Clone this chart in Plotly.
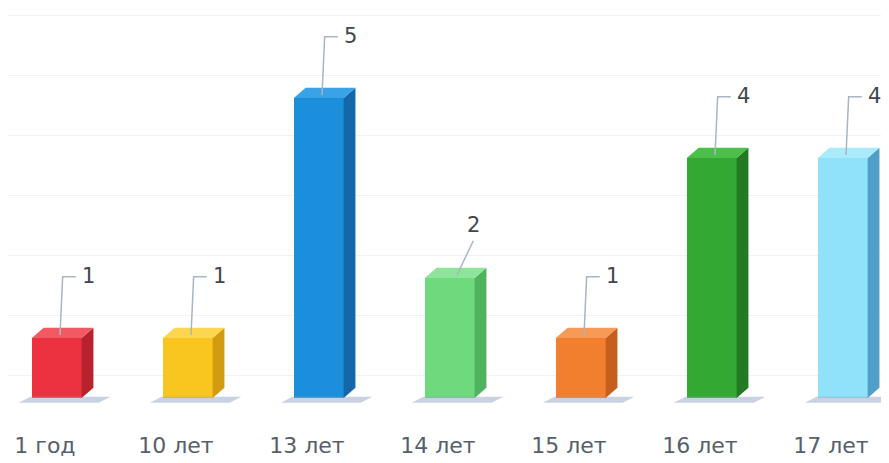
import plotly.graph_objects as go

categories = ["1 год", "10 лет", "13 лет", "14 лет", "15 лет", "16 лет", "17 лет"]
values = [1, 1, 5, 2, 1, 4, 4]

front_colors = ["#ec3240", "#f8c61e", "#1b8fdc", "#6fd97e", "#f27f2e", "#33a833", "#8fe2f9"]
side_colors = ["#b8222c", "#d49a10", "#1268a8", "#4fb35e", "#c75e1c", "#237a24", "#4f9fc8"]
top_colors = ["#f25a63", "#fbd64e", "#3aa2e6", "#8fe49b", "#f69a55", "#4cbf4b", "#a9ebfb"]
leader_kind = ["elbow", "elbow", "elbow", "diag", "elbow", "elbow", "elbow"]

BAR_OFF = -0.10
BAR_W = 0.38
DX = 0.09
DY = 0.17
FONT = "DejaVu Sans"

fig = go.Figure()

xs = list(range(len(categories)))

# floor shadows (beneath the base)
for i, v in enumerate(values):
    x0 = i + BAR_OFF
    x1 = x0 + BAR_W + DX
    fig.add_trace(go.Scatter(
        x=[x0 - 0.10, x1 + 0.04, x1 + 0.13, x0 - 0.01, x0 - 0.10],
        y=[-0.08, -0.08, 0.02, 0.02, -0.08],
        fill="toself", fillcolor="rgba(150,166,195,0.5)", line=dict(width=0),
        mode="lines", hoverinfo="skip", showlegend=False))

# front faces
fig.add_trace(go.Bar(
    x=xs, y=values, width=BAR_W, offset=BAR_OFF,
    marker=dict(color=front_colors, line=dict(width=0)),
    hoverinfo="skip", showlegend=False))

# side and top faces
for i, v in enumerate(values):
    x0 = i + BAR_OFF
    x1 = x0 + BAR_W
    fig.add_trace(go.Scatter(
        x=[x1, x1 + DX, x1 + DX, x1, x1],
        y=[0, DY, v + DY, v, 0],
        fill="toself", fillcolor=side_colors[i], line=dict(width=0),
        mode="lines", hoverinfo="skip", showlegend=False))
    fig.add_trace(go.Scatter(
        x=[x0, x1, x1 + DX, x0 + DX, x0],
        y=[v, v, v + DY, v + DY, v],
        fill="toself", fillcolor=top_colors[i], line=dict(width=0),
        mode="lines", hoverinfo="skip", showlegend=False))

# leader lines and labels
for i, v in enumerate(values):
    sx = i + 0.115
    sy = v + 0.05
    if leader_kind[i] == "elbow":
        ex, ey = sx + 0.02, v + 1.02
        hx = ex + 0.10
        fig.add_trace(go.Scatter(
            x=[sx, ex, hx], y=[sy, ey, ey], mode="lines",
            line=dict(color="#a9b5c2", width=1.5), hoverinfo="skip", showlegend=False))
        fig.add_annotation(x=hx, y=ey, text=str(v), showarrow=False,
                           xanchor="left", yanchor="middle", xshift=4, yshift=1,
                           font=dict(family=FONT, size=21, color="#40474f"))
    else:
        ex, ey = sx + 0.155, v + 0.62
        fig.add_trace(go.Scatter(
            x=[sx + 0.03, ex], y=[sy, ey], mode="lines",
            line=dict(color="#a9b5c2", width=1.5), hoverinfo="skip", showlegend=False))
        fig.add_annotation(x=ex, y=ey, text=str(v), showarrow=False,
                           xanchor="center", yanchor="bottom", yshift=2,
                           font=dict(family=FONT, size=21, color="#40474f"))

fig.update_layout(
    width=881, height=455,
    margin=dict(l=0, r=0, t=0, b=53),
    paper_bgcolor="white", plot_bgcolor="white",
    xaxis=dict(range=[-0.282, 6.443], tickvals=xs, ticktext=categories,
               showgrid=False, zeroline=False, showline=False, ticks="",
               ticklabelstandoff=20,
               tickfont=dict(family=FONT, size=22, color="#56606b")),
    yaxis=dict(range=[-0.2, 6.5], tick0=0.367, dtick=1, showgrid=True,
               gridcolor="#f0f2f5", gridwidth=1, zeroline=False,
               showticklabels=False, showline=False),
    bargap=0,
)

fig.write_html("out.html")
